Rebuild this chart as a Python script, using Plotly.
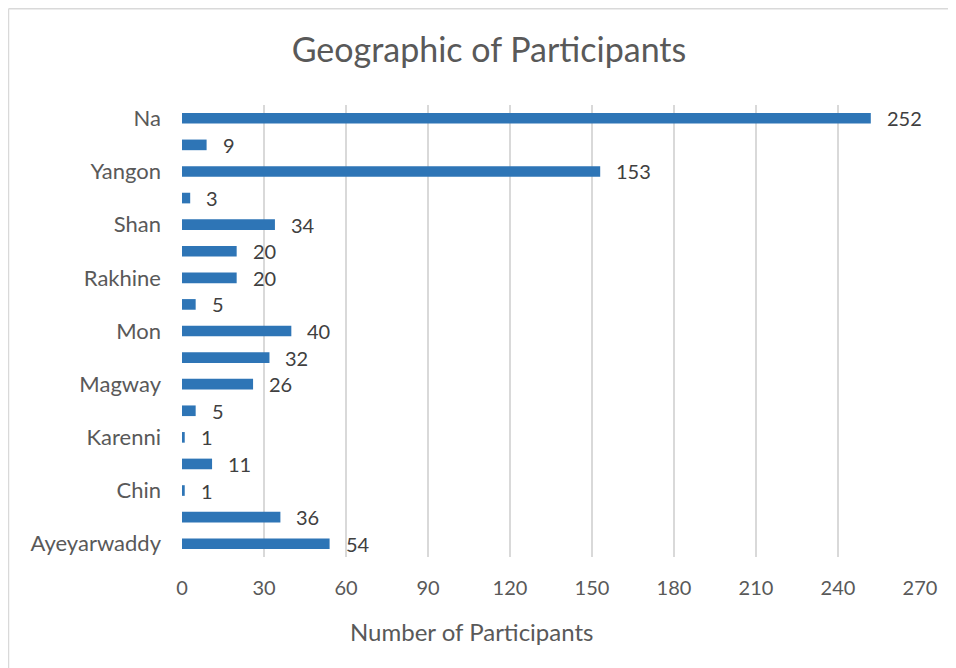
import plotly.graph_objects as go

categories = ["Ayeyarwaddy", "Bago", "Chin", "Kachin", "Karenni", "Kayin", "Magway",
              "Mandalay", "Mon", "Naypyitaw", "Rakhine", "Sagaing", "Shan",
              "Tanintharyi", "Yangon", "Others", "Na"]
values = [54, 36, 1, 11, 1, 5, 26, 32, 40, 5, 20, 20, 34, 3, 153, 9, 252]
shown_labels = ["Ayeyarwaddy", "Chin", "Karenni", "Magway", "Mon", "Rakhine", "Shan", "Yangon", "Na"]
x_ticks = [0, 30, 60, 90, 120, 150, 180, 210, 240, 270]

FONT = "Lato"
TXT = "#595959"
OFF = 8  # page body margin
W, H = 956 - OFF, 668 - OFF
# reference pixel positions of the plot area
PL, PR, PT, PB = 182, 920, 105, 557
ml, mr = PL - OFF, W - (PR - OFF)
mt, mb = PT - OFF, H - (PB - OFF)

fig = go.Figure()
fig.add_trace(go.Bar(
    y=categories, x=values, orientation="h",
    marker=dict(color="#2E75B6", line=dict(width=0)),
    width=0.4, hoverinfo="x+y",
))
for c, v in zip(categories, values):
    fig.add_annotation(x=v, y=c, text=str(v), showarrow=False, xanchor="left",
                       yanchor="middle", xshift=14,
                       font=dict(family=FONT, size=20, color="#404040"))

pw = W - ml - mr
ph = H - mt - mb
def px_to_paper_x(px):
    return (px - OFF - ml) / pw
def py_to_paper_y(py):
    return (H - mb - (py - OFF)) / ph

border = dict(color="#d9d9d9", width=1.5)
fig.add_shape(type="line", xref="paper", yref="paper",
              x0=px_to_paper_x(8.5), x1=px_to_paper_x(8.5),
              y0=py_to_paper_y(700), y1=py_to_paper_y(8.8), line=border, layer="below")
fig.add_shape(type="line", xref="paper", yref="paper",
              x0=px_to_paper_x(8.5), x1=px_to_paper_x(1000),
              y0=py_to_paper_y(8.8), y1=py_to_paper_y(8.8), line=border, layer="below")

fig.add_annotation(xref="paper", yref="paper", x=px_to_paper_x(471), y=py_to_paper_y(631),
                   xanchor="center", yanchor="middle",
                   text="Number of Participants", showarrow=False,
                   font=dict(family=FONT, size=24, color=TXT))

fig.update_layout(
    width=W, height=H,
    margin=dict(l=ml, r=mr, t=mt, b=mb),
    paper_bgcolor="white", plot_bgcolor="white",
    title=dict(text="Geographic of Participants", x=(489 - OFF) / W, xanchor="center",
               y=1 - (50 - OFF) / H, yanchor="middle",
               font=dict(family=FONT, size=34, color=TXT)),
    showlegend=False,
    xaxis=dict(range=[0, 270], tickvals=x_ticks, showgrid=True, gridcolor="#d9d9d9",
               gridwidth=1.5, zeroline=False, showline=False, ticks="",
               tickfont=dict(family=FONT, size=20, color=TXT), ticklabelstandoff=17),
    yaxis=dict(categoryorder="array", categoryarray=categories, tickmode="array",
               tickvals=shown_labels, ticktext=shown_labels, showgrid=False,
               showline=False, ticks="", tickfont=dict(family=FONT, size=22, color=TXT),
               ticklabelstandoff=20, range=[-0.5, 16.5]),
)
fig.write_html("out.html")
